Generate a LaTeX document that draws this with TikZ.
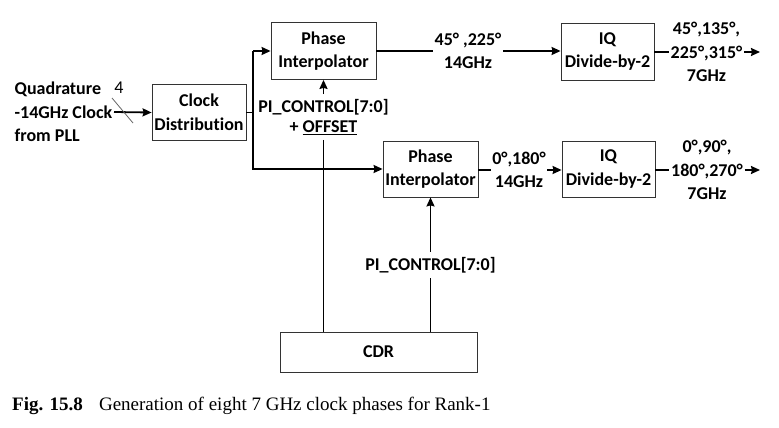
\documentclass[tikz,border=0pt]{standalone}
\usepackage{fontspec}
\setmainfont{Carlito}[Ligatures=NoCommon]
\newfontfamily\capfont{Liberation Serif}
\usepackage{tikz}
\usetikzlibrary{arrows.meta,calc}

\begin{document}
\begin{tikzpicture}
[x=1pt, y=-1pt,
 blk/.style={draw=black!80, line width=0.8pt, align=center, inner sep=0pt},
 txt/.style={align=center, inner sep=1.5pt, font=\fontsize{18}{23.5}\selectfont\bfseries},
 ctl/.style={align=center, inner xsep=1.5pt, inner ysep=5pt, font=\fontsize{18}{20}\selectfont\bfseries},
 wire/.style={line width=1.8pt},
 >={Stealth[length=9pt, width=8pt, inset=1pt]}]

\useasboundingbox (0,0) rectangle (779,428);

\node (inp) at (13,112) [txt, anchor=west, align=left] {Quadrature\\-14GHz Clock\\from PLL};
\node (bw) at (119,88) [txt, font=\fontsize{18}{20}\selectfont] {4};
\node (cd) at (199,112.5) [blk, txt, minimum width=94pt, minimum height=56pt] {Clock\\Distribution};
\node (pi1) at (323.5,51) [blk, txt, minimum width=105pt, minimum height=57pt] {Phase\\Interpolator};
\node (iq1) at (607.5,51.5) [blk, txt, minimum width=93pt, minimum height=57pt] {IQ\\Divide-by-2};
\node (pi2) at (430.5,169) [blk, txt, minimum width=95pt, minimum height=56pt] {Phase\\Interpolator};
\node (iq2) at (608.5,169) [blk, txt, minimum width=93pt, minimum height=56pt] {IQ\\Divide-by-2};
\node (cdr) at (378.5,352) [blk, txt, minimum width=197pt, minimum height=40pt] {CDR};
\node (f1) at (468,51) [txt] {45° ,225°\\14GHz};
\node (f2) at (519,170) [txt] {0°,180°\\14GHz};
\node (o1) at (706.5,52) [txt] {45°,135°,\\225°,315°\\7GHz};
\node (o2) at (707,170) [txt] {0°,90°,\\180°,270°\\7GHz};
\node (c1) at (323.5,117) [ctl] {PI\_CONTROL[7:0]\\+ \underline{OFFSET}};
\node (c2) at (430.5,265) [ctl] {PI\_CONTROL[7:0]};
\node (cap) at (12,406) [anchor=west, inner sep=0pt, font=\capfont\fontsize{19}{22}\selectfont] {\textbf{Fig. 15.8}\hspace{0.6em} Generation of eight 7 GHz clock phases for Rank-1};
\coordinate (j1) at (253,51);
\coordinate (e1) at (760,52);
\coordinate (e2) at (760,170);

\draw [wire, ->] (inp.east) -- (cd.west);
\draw [black!60, line width=0.8pt] (112,98) -- (133,123);
\draw [wire] (cd.east) -| (j1);
\draw [wire, ->] (j1) -- (pi1.west);
\draw [wire, ->] (j1) |- (pi2.west);
\draw [wire] (pi1.east) -- (f1.west);
\draw [wire, ->] (f1.east) -- (iq1.west |- f1.east);
\draw [wire] (pi2.east |- f2.west) -- (f2.west);
\draw [wire, ->] (f2.east) -- (iq2.west |- f2.east);
\draw [wire] (iq1.east |- o1.west) -- (o1.west);
\draw [wire, ->] (o1.east) -- (e1);
\draw [wire] (iq2.east |- o2.west) -- (o2.west);
\draw [wire, ->] (o2.east) -- (e2);
\draw [wire, ->] (c1.north) -- (pi1.south);
\draw [wire] (c1.south) -- (c1.south |- cdr.north);
\draw [wire, ->] (c2.north) -- (pi2.south);
\draw [wire] (c2.south) -- (c2.south |- cdr.north);
\end{tikzpicture}
\end{document}
